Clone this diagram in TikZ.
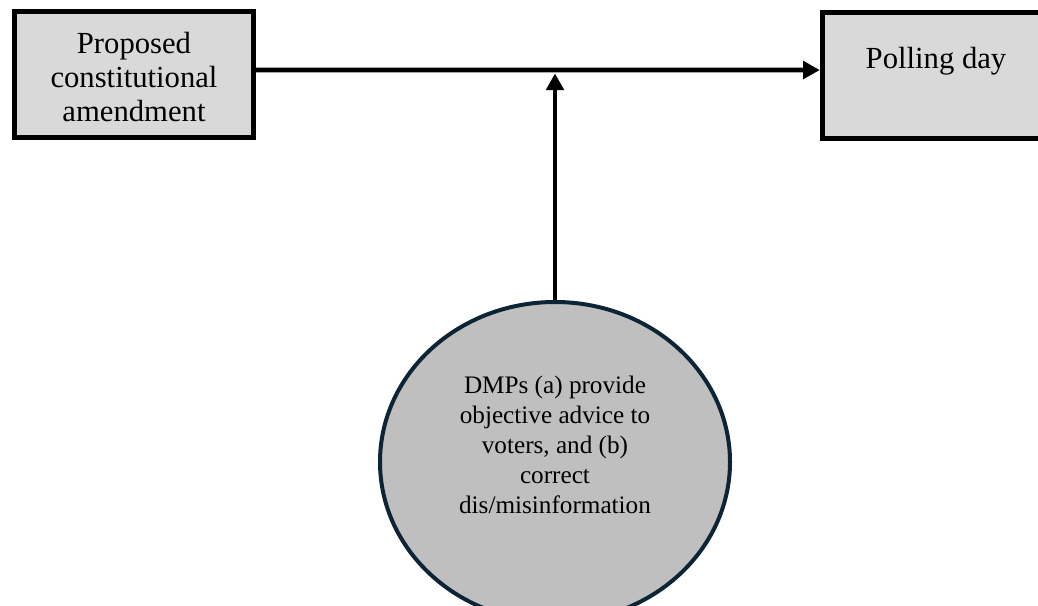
\documentclass[tikz,border=0pt]{standalone}
\usepackage{fontspec}
\setmainfont{Liberation Serif}
\usetikzlibrary{arrows.meta,shapes.geometric}
\definecolor{boxfill}{HTML}{D9D9D9}
\definecolor{ellfill}{HTML}{BFBFBF}
\definecolor{ellline}{HTML}{0C2536}
\tikzset{
  box/.style={draw=black, line width=4pt, fill=boxfill, rectangle, inner sep=0pt,
    font=\fontsize{23pt}{25.5pt}\selectfont, align=center},
  arr/.style={line width=3.6pt, -{Triangle[length=12.5pt,width=13pt]}},
  bigtext/.style={font=\fontsize{23pt}{25.5pt}\selectfont, align=center},
  smalltext/.style={font=\fontsize{18.9pt}{22.5pt}\selectfont, align=center},
}
\begin{document}
\begin{tikzpicture}[x=0.75pt,y=-0.75pt]
\clip (0,0) rectangle (1038,606);
\fill[white] (0,0) rectangle (1038,606);
\node[box, minimum width=179.25pt, minimum height=94.5pt] (prop) at (134,74.5) {};
\node[bigtext] (proptext) at (134,77.5) {Proposed\\constitutional\\amendment};
\node[box, minimum width=174pt, minimum height=94.5pt] (poll) at (938.5,75.5) {};
\node[bigtext, anchor=base] (polltext) at (936,69) {Polling day};
\node[ellipse, draw=ellline, line width=3pt, fill=ellfill, minimum width=262.5pt,
  minimum height=240pt, inner sep=0pt] (dmp) at (555,462) {};
\node[smalltext] (dmptext) at (555,445)
  {DMPs (a) provide\\objective advice to\\voters, and (b)\\correct\\dis/misinformation};
\coordinate (j) at (555,70);
\draw[arr] ([yshift=3.4pt]prop.east) -- ([yshift=4.1pt]poll.west);
\draw[arr] (dmp.north) -- ([yshift=-2.6pt]j);
\end{tikzpicture}
\end{document}
